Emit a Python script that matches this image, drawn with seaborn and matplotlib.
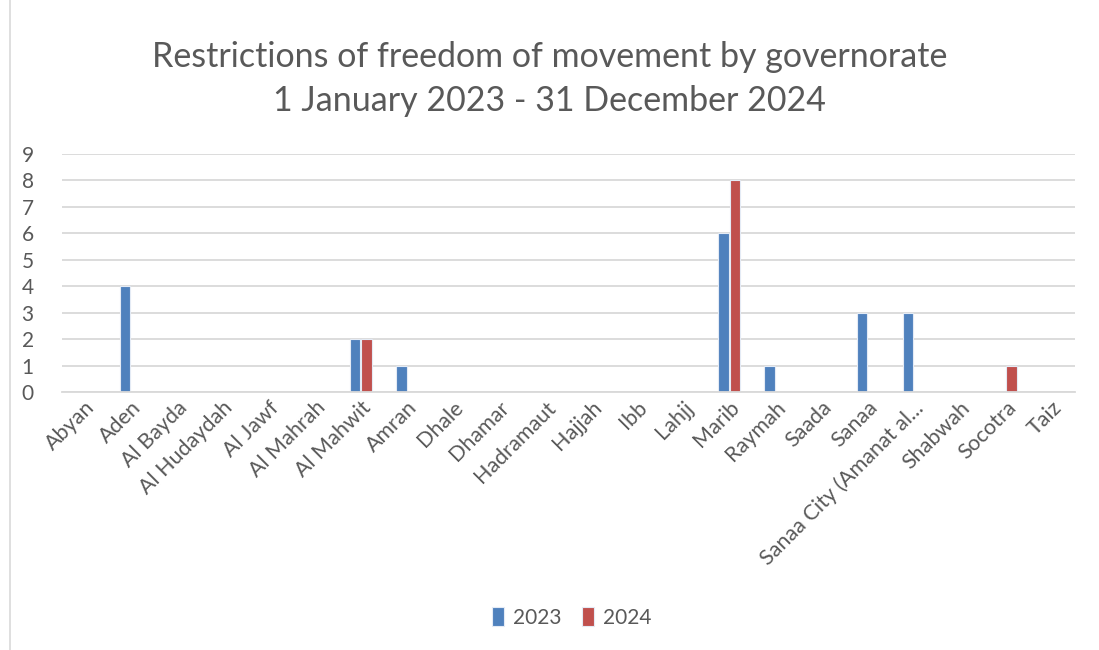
import matplotlib
matplotlib.use("Agg")
import matplotlib.pyplot as plt
import seaborn as sns
import pandas as pd
from matplotlib.lines import Line2D

categories = ["Abyan", "Aden", "Al Bayda", "Al Hudaydah", "Al Jawf", "Al Mahrah",
              "Al Mahwit", "Amran", "Dhale", "Dhamar", "Hadramaut", "Hajjah", "Ibb",
              "Lahjj", "Marib", "Raymah", "Saada", "Sanaa", "Sanaa City (Amanat al...",
              "Shabwah", "Socotra", "Taiz"]
values_2023 = [0, 4, 0, 0, 0, 0, 2, 1, 0, 0, 0, 0, 0, 0, 6, 1, 0, 3, 3, 0, 0, 0]
values_2024 = [0, 0, 0, 0, 0, 0, 2, 0, 0, 0, 0, 0, 0, 0, 8, 0, 0, 0, 0, 0, 1, 0]
series = ["2023", "2024"]
colors = ["#4F81BD", "#C0504D"]

df = pd.DataFrame({
    "Governorate": categories * 2,
    "Year": [series[0]] * len(categories) + [series[1]] * len(categories),
    "Count": values_2023 + values_2024,
})

sns.set_theme(style="white")
plt.rcParams["font.family"] = ["Lato", "DejaVu Sans"]

fig = plt.figure(figsize=(10.99, 6.5), dpi=100)
ax = fig.add_axes([0.056, 0.397, 0.922, 0.366])

sns.barplot(data=df, x="Governorate", y="Count", hue="Year", order=categories,
            hue_order=series, palette=colors, saturation=1, width=0.5, gap=0.08,
            edgecolor="#E4EBF5", linewidth=0.8, ax=ax, legend=True)

ax.set_ylim(0, 9)
ax.set_yticks(range(0, 10))
ax.yaxis.grid(True, color="#D9D9D9", linewidth=1.3)
ax.set_axisbelow(True)
for s in ["top", "right", "left"]:
    ax.spines[s].set_visible(False)
ax.spines["bottom"].set_color("#D9D9D9")
ax.spines["bottom"].set_linewidth(1.3)
ax.set_xlabel("")
ax.set_ylabel("")
ax.tick_params(axis="y", labelsize=15, colors="#595959", length=0, pad=20)
ax.tick_params(axis="x", labelsize=15.5, colors="#595959", length=0, pad=4)
plt.setp(ax.get_xticklabels(), rotation=45, ha="right", rotation_mode="anchor")

fig.suptitle("Restrictions of freedom of movement by governorate\n1 January 2023 - 31 December 2024",
             y=0.937, fontsize=24.5, color="#595959", linespacing=1.45)

handles, labels = ax.get_legend_handles_labels()
ax.legend_.remove()
fig.legend(handles, labels, loc="center", bbox_to_anchor=(0.52, 0.05), ncol=2,
           frameon=False, fontsize=15, handlelength=0.6, handleheight=1.0,
           handletextpad=0.4, columnspacing=1.0, labelcolor="#595959")

fig.add_artist(Line2D([10 / 1099, 10 / 1099], [0, 1], color="#D9D9D9", linewidth=1.2,
                      transform=fig.transFigure))

fig.savefig("out.png", dpi=100)
